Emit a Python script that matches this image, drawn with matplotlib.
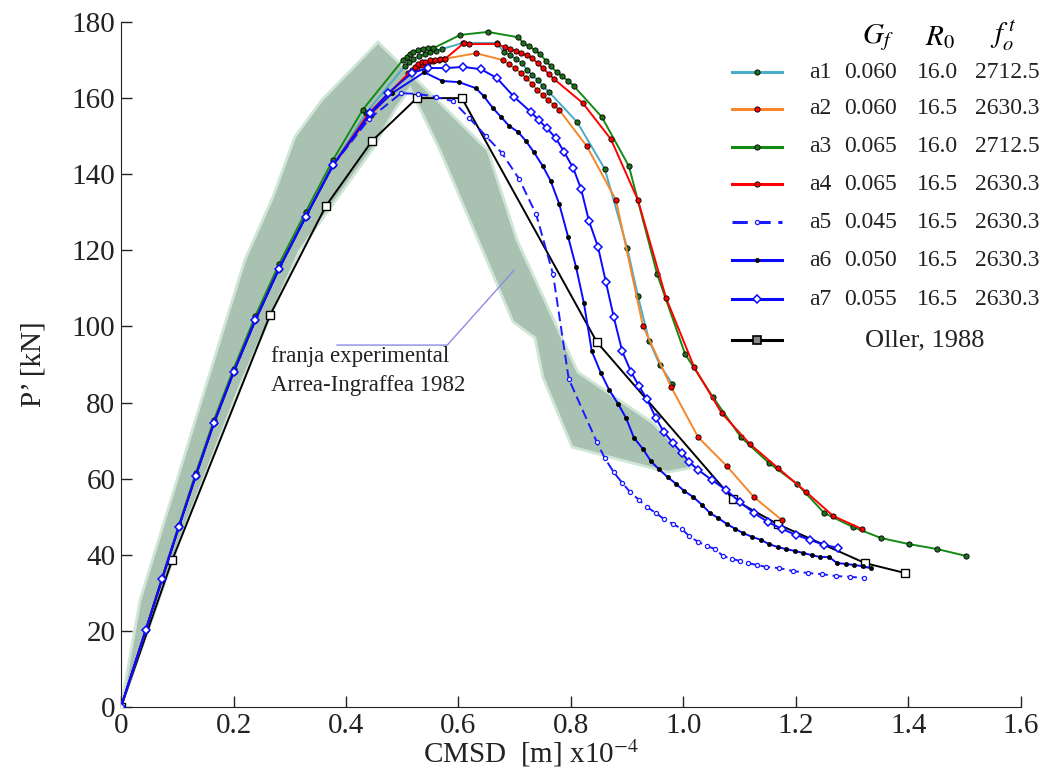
import matplotlib
matplotlib.use("Agg")
import matplotlib.pyplot as plt
import numpy as np

plt.rcParams['font.family'] = ['Liberation Serif', 'DejaVu Serif']
plt.rcParams['mathtext.fontset'] = 'stix'

# tramo de carga comun (CMSD x1e-4 m, P kN)
rise_x = [0, 0.044, 0.073, 0.103, 0.133, 0.165, 0.200, 0.239, 0.281, 0.328, 0.377]
rise_p = [0, 20.2, 33.6, 47.4, 60.8, 74.5, 87.9, 101.7, 115.2, 128.7, 142.4]

a1_x = rise_x + [0.435, 0.505, 0.512, 0.520, 0.530, 0.540, 0.550, 0.560, 0.570, 0.608, 0.668,
                 0.681, 0.692, 0.702, 0.713, 0.722, 0.731, 0.741, 0.750, 0.761, 0.811, 0.860,
                 0.900, 0.919, 0.939, 0.958, 0.980]
a1_p = rise_p + [156.0, 168.5, 169.5, 170.3, 171.0, 171.6, 172.1, 172.4, 172.9, 174.5, 174.5,
                 172.1, 171.3, 170.3, 169.2, 167.4, 166.1, 164.7, 163.2, 161.6, 153.7, 141.4,
                 120.6, 108.0, 96.2, 89.9, 84.9]

a2_x = rise_x + [0.445, 0.510, 0.518, 0.527, 0.536, 0.545, 0.555, 0.565, 0.575, 0.631, 0.679,
                 0.690, 0.700, 0.711, 0.720, 0.731, 0.740, 0.750, 0.759, 0.770, 0.779, 0.828,
                 0.880, 0.928, 0.978, 1.026, 1.077, 1.125, 1.175]
a2_p = rise_p + [155.5, 166.5, 167.3, 168.0, 168.6, 169.2, 169.7, 170.0, 170.3, 171.8, 170.0,
                 168.9, 167.9, 166.6, 165.3, 163.7, 162.1, 160.8, 159.5, 158.2, 156.9, 147.4,
                 133.2, 100.1, 84.1, 70.9, 63.3, 55.2, 49.1]

a3_x = rise_x + [0.430, 0.501, 0.508, 0.514, 0.519, 0.528, 0.537, 0.546, 0.555, 0.603, 0.652,
                 0.706, 0.715, 0.725, 0.736, 0.745, 0.756, 0.764, 0.775, 0.784, 0.795, 0.805,
                 0.855, 0.903, 0.953, 1.003, 1.052, 1.102, 1.152, 1.202, 1.250, 1.301, 1.351,
                 1.401, 1.451, 1.502]
a3_p = [0, 20.4, 34.0, 47.9, 61.5, 75.3, 88.8, 102.8, 116.4, 130.0, 143.8] + \
       [157.0, 170.0, 170.8, 171.6, 172.1, 172.6, 172.9, 173.1, 173.1, 176.6, 177.4,
        176.0, 174.5, 173.7, 172.6, 171.6, 169.7, 168.4, 166.8, 165.8, 164.5, 163.2,
        155.0, 142.1, 113.8, 92.7, 81.5, 70.9, 64.1, 58.6, 51.0, 47.3, 44.4,
        42.8, 41.5, 39.7]

a4_x = rise_x + [0.440, 0.523, 0.528, 0.535, 0.540, 0.549, 0.558, 0.567, 0.576, 0.610, 0.619,
                 0.668, 0.683, 0.692, 0.702, 0.711, 0.722, 0.731, 0.741, 0.750, 0.761, 0.770,
                 0.821, 0.871, 0.919, 0.969, 1.019, 1.068, 1.118, 1.168, 1.218, 1.266, 1.317]
a4_p = rise_p + [156.0, 168.2, 168.9, 169.5, 169.5, 170.0, 170.0, 170.3, 170.3, 174.5, 174.2,
                 174.2, 173.4, 172.9, 172.4, 171.8, 171.3, 170.5, 169.2, 167.9, 166.3, 165.0,
                 158.7, 149.2, 133.2, 107.5, 89.3, 77.2, 69.1, 62.8, 56.5, 50.2, 46.8]

a5_x = rise_x + [0.441, 0.498, 0.528, 0.560, 0.590, 0.619, 0.649, 0.677, 0.708, 0.738, 0.768,
                 0.796, 0.846, 0.860, 0.876, 0.891, 0.905, 0.921, 0.935, 0.951, 0.965, 0.981,
                 0.997, 1.010, 1.026, 1.042, 1.056, 1.070, 1.086, 1.100, 1.115, 1.131, 1.147,
                 1.170, 1.195, 1.221, 1.246, 1.271, 1.296, 1.321]
a5_p = rise_p + [154.5, 161.3, 161.1, 160.3, 159.2, 154.8, 150.0, 145.6, 138.7, 129.5, 113.8,
                 86.2, 69.6, 65.4, 61.7, 58.9, 56.5, 54.4, 52.5, 51.0, 49.4, 48.1,
                 46.8, 44.9, 43.4, 42.3, 41.5, 39.7, 38.9, 38.4, 37.8, 37.3, 36.8,
                 36.5, 35.7, 35.2, 34.9, 34.4, 34.2, 33.9]

a6_x = rise_x + [0.443, 0.482, 0.539, 0.571, 0.601, 0.631, 0.645, 0.661, 0.676, 0.690, 0.706,
                 0.720, 0.734, 0.750, 0.764, 0.779, 0.795, 0.809, 0.823, 0.837, 0.853, 0.868,
                 0.884, 0.898, 0.912, 0.928, 0.942, 0.956, 0.972, 0.987, 1.001, 1.017, 1.033,
                 1.047, 1.061, 1.077, 1.092, 1.106, 1.122, 1.138, 1.152, 1.168, 1.182, 1.198,
                 1.212, 1.228, 1.243, 1.259, 1.273, 1.289, 1.303, 1.319, 1.333]
a6_p = rise_p + [155.8, 161.3, 166.8, 164.5, 164.2, 162.6, 160.5, 157.4, 155.0, 152.7, 151.1,
                 148.7, 145.8, 142.1, 138.2, 132.2, 123.5, 115.6, 106.1, 93.5, 87.8, 83.3,
                 79.6, 75.9, 70.7, 67.8, 64.6, 62.5, 60.4, 58.6, 56.8, 55.2, 53.1,
                 51.0, 49.7, 48.1, 46.8, 45.7, 44.7, 43.9, 42.8, 42.0, 41.5, 41.0,
                 40.5, 39.9, 39.4, 39.4, 37.8, 37.6, 37.3, 37.0, 36.5]

a7_x = rise_x + [0.443, 0.475, 0.517, 0.546, 0.578, 0.608, 0.640, 0.668, 0.699, 0.729, 0.743,
                 0.757, 0.773, 0.788, 0.804, 0.818, 0.832, 0.848, 0.862, 0.876, 0.891, 0.907,
                 0.921, 0.935, 0.951, 0.965, 0.981, 0.997, 1.010, 1.026, 1.051, 1.076, 1.100,
                 1.125, 1.150, 1.175, 1.200, 1.225, 1.250, 1.275]
a7_p = rise_p + [156.0, 161.3, 166.6, 167.9, 167.9, 168.2, 167.6, 165.3, 160.3, 156.3, 154.2,
                 152.1, 149.5, 145.8, 141.6, 136.1, 127.7, 120.9, 111.7, 102.5, 93.5, 88.0,
                 84.3, 80.9, 75.9, 72.3, 69.4, 66.7, 64.4, 62.3, 59.6, 57.0, 53.9,
                 51.0, 48.6, 46.8, 45.2, 43.9, 42.6, 41.8]

oller_x = [0, 0.091, 0.265, 0.364, 0.446, 0.526, 0.606, 0.846, 1.088, 1.168, 1.323, 1.394]
oller_p = [0, 38.6, 103.0, 131.6, 148.7, 160.0, 160.0, 95.9, 54.6, 48.0, 37.8, 35.2]

# franja experimental Arrea-Ingraffea (contorno)
band_x = [0, 0.034, 0.158, 0.220, 0.270, 0.309, 0.357, 0.457, 0.562, 0.652, 0.704, 0.812,
          0.946, 1.012, 1.012, 0.971, 0.802, 0.750, 0.736, 0.697, 0.567, 0.514, 0.487,
          0.446, 0.318, 0.212, 0.105, 0]
band_p = [0, 28.1, 87.8, 117.4, 134.0, 149.8, 159.5, 174.7, 159.5, 146.3, 122.7, 88.0,
          74.6, 64.4, 62.8, 61.7, 68.3, 86.7, 97.0, 101.2, 146.3, 162.6, 156.9,
          146.3, 120.1, 84.6, 43.9, 0]

names = ['a1', 'a2', 'a3', 'a4', 'a5', 'a6', 'a7']
gf = ['0.060', '0.060', '0.065', '0.065', '0.045', '0.050', '0.055']
r0 = ['16.0', '16.5', '16.0', '16.5', '16.5', '16.5', '16.5']
fot = ['2712.5', '2630.3', '2712.5', '2630.3', '2630.3', '2630.3', '2630.3']

fig = plt.figure(figsize=(10.45, 7.78), dpi=100)
ax = fig.add_axes([0.1158, 0.0913, 0.977 - 0.1158, 0.9717 - 0.0913])

ax.fill(band_x, band_p, facecolor='#a9c1b1', edgecolor='#cfe5d5', lw=2, zorder=1)

green_dk = '#1e6e1e'
styles = [
    dict(color='#4bacc6', ls='-', marker='o', ms=3.8, mfc=green_dk, mec='black', mew=0.6),
    dict(color='#f7862b', ls='-', marker='o', ms=3.8, mfc='red', mec='black', mew=0.6),
    dict(color='#138a13', ls='-', marker='o', ms=3.8, mfc=green_dk, mec='black', mew=0.6),
    dict(color='#ff0000', ls='-', marker='o', ms=3.8, mfc='red', mec='black', mew=0.6),
    dict(color='#1a1aff', ls=(0, (5, 2.5)), marker='o', ms=3, mfc='white', mec='#1a1aff', mew=0.9),
    dict(color='#0a0aff', ls='-', marker='o', ms=3, mfc='black', mec='black', mew=0.5),
    dict(color='#0a0aff', ls='-', marker='D', ms=4.3, mfc='white', mec='#0a0aff', mew=1.1),
]
series = [(a1_x, a1_p), (a2_x, a2_p), (a3_x, a3_p), (a4_x, a4_p),
          (a5_x, a5_p), (a6_x, a6_p), (a7_x, a7_p)]

ax.plot(oller_x, oller_p, color='black', lw=1.4, marker='s', ms=5.5, mfc='white',
        mec='black', mew=1, zorder=2)
for (xs, ps), st in zip(series, styles):
    ax.plot(xs, ps, lw=1.4, zorder=3, **st)

# anotacion de la franja
ax.plot([0.384, 0.580, 0.699], [95.1, 95.1, 114.8], color='#8c8ce0', lw=1, zorder=2)
ax.text(0.267, 92.0, 'franja experimental', fontsize=16.5, color='#222222', va='center')
ax.text(0.267, 84.6, 'Arrea-Ingraffea 1982', fontsize=16.5, color='#222222', va='center')

ax.set_xlim(0, 1.6)
ax.set_ylim(0, 180)
ax.set_xticks(np.arange(0, 1.61, 0.2))
ax.set_xticklabels(['0', '0.2', '0.4', '0.6', '0.8', '1.0', '1.2', '1.4', '1.6'])
ax.set_yticks(np.arange(0, 181, 20))
ax.tick_params(direction='in', length=8, width=1, labelsize=21, colors='#222222', pad=4)
for s in ['top', 'right']:
    ax.spines[s].set_visible(False)
for s in ['left', 'bottom']:
    ax.spines[s].set_color('#222222')
ax.set_xlabel(r'CMSD  [m] x10$^{-4}$', fontsize=21, color='#222222', labelpad=0)
ax.xaxis.set_label_coords(0.456, -0.045)
ax.set_ylabel('P’ [kN]', fontsize=21, color='#222222', labelpad=18)

# leyenda con columnas
W, H = 1045.0, 778.0
def fx(px):
    return px / W
def fy(py):
    return 1 - py / H

fig.text(fx(878), fy(38), r'$G_f$', fontsize=21, ha='center', va='center')
fig.text(fx(940), fy(38), r'$R_0$', fontsize=21, ha='center', va='center')
fig.text(fx(1003), fy(36), r'$f_o^{\,t}$', fontsize=21, ha='center', va='center')

rows = [72, 109, 147, 184, 222, 260, 299]
for i, st in enumerate(styles):
    y = fy(rows[i])
    fig.add_artist(plt.Line2D([fx(732), fx(782)], [y, y], lw=2.2, color=st['color'],
                              ls=st['ls'], transform=fig.transFigure))
    fig.add_artist(plt.Line2D([fx(757)], [y], marker=st['marker'], ms=st['ms'],
                              mfc=st['mfc'], mec=st['mec'], mew=st['mew'],
                              transform=fig.transFigure))
    fig.text(fx(809), y, names[i], fontsize=17, va='center', ha='left', color='#222222')
    fig.text(fx(897), y, gf[i], fontsize=17, va='center', ha='right', color='#222222')
    fig.text(fx(958), y, r0[i], fontsize=17, va='center', ha='right', color='#222222')
    fig.text(fx(1040), y, fot[i], fontsize=17, va='center', ha='right', color='#222222')

y = fy(340)
fig.add_artist(plt.Line2D([fx(732), fx(782)], [y, y], lw=2.2, color='black',
                          transform=fig.transFigure))
fig.add_artist(plt.Line2D([fx(757)], [y], marker='s', ms=6, mfc='#888888', mec='black',
                          mew=1.2, transform=fig.transFigure))
fig.text(fx(925), y, 'Oller, 1988', fontsize=19, va='center', ha='center', color='#222222')

fig.savefig('out.png', dpi=100)
